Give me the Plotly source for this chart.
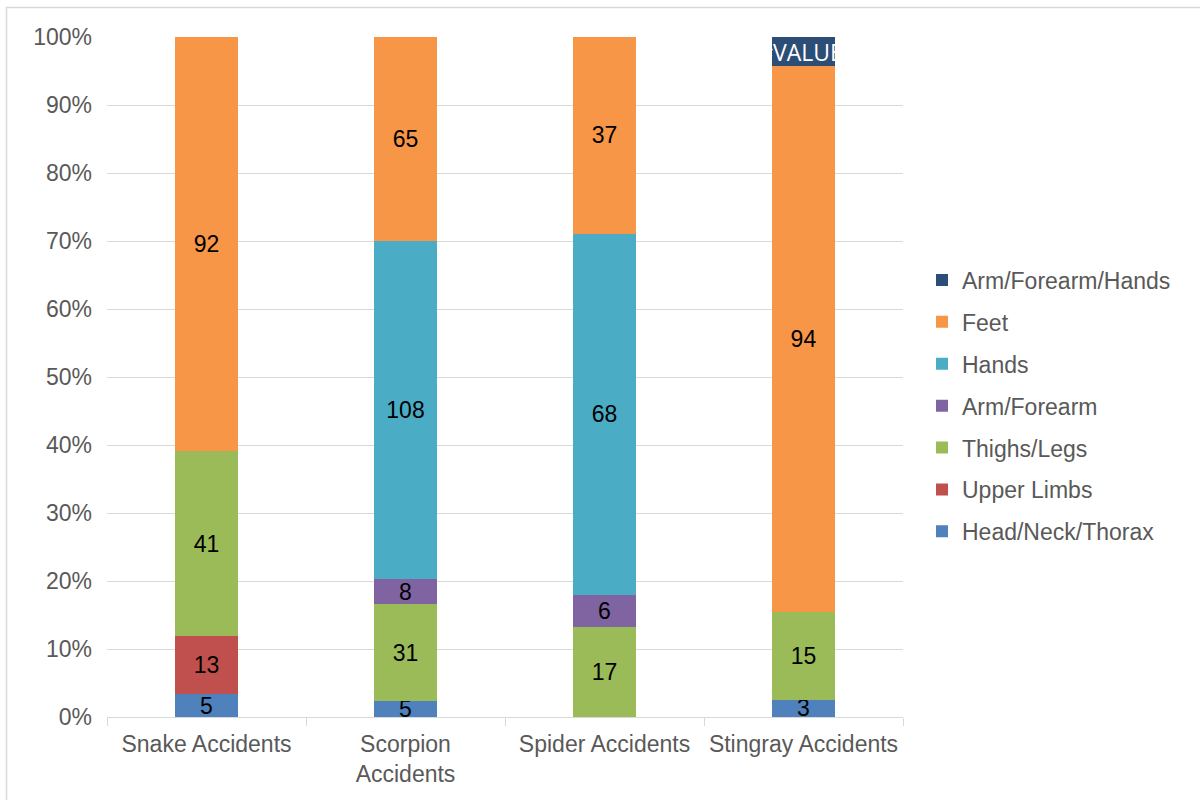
import plotly.graph_objects as go

categories = ["Snake Accidents", "Scorpion Accidents", "Spider Accidents", "Stingray Accidents"]
tick_labels = ["Snake Accidents", "Scorpion<br>Accidents", "Spider Accidents", "Stingray Accidents"]

head_neck_thorax = [5, 5, None, 3]
upper_limbs = [13, None, None, None]
thighs_legs = [41, 31, 17, 15]
arm_forearm = [None, 8, 6, None]
hands = [None, 108, 68, None]
feet = [92, 65, 37, 94]
arm_forearm_hands = [None, None, None, 5]
arm_forearm_hands_labels = ["", "", "", "#VALUE!"]

series = [
    ("Head/Neck/Thorax", head_neck_thorax, "#4F81BD"),
    ("Upper Limbs", upper_limbs, "#C0504D"),
    ("Thighs/Legs", thighs_legs, "#9BBB59"),
    ("Arm/Forearm", arm_forearm, "#8064A2"),
    ("Hands", hands, "#4BACC6"),
    ("Feet", feet, "#F79646"),
]

FS = 23
fig = go.Figure()
n = len(series) + 1
for i, (name, vals, color) in enumerate(series):
    fig.add_trace(go.Bar(
        name=name, x=categories, y=vals, marker_color=color, marker_line_width=0,
        text=[("" if v is None else str(v)) for v in vals],
        textposition="inside", insidetextanchor="middle", textangle=0,
        constraintext="none",
        textfont=dict(family="Liberation Sans, Arial", size=FS, color="black"),
        legendgroup=name, legendrank=n - i,
    ))

fig.add_trace(go.Bar(
    name="Arm/Forearm/Hands", x=categories, y=arm_forearm_hands, marker_color="#2C4D75",
    marker_line_width=0,
    text=arm_forearm_hands_labels,
    textposition="inside", insidetextanchor="middle", textangle=0,
    constraintext="none",
    textfont=dict(family="Open Sans, Liberation Sans", size=FS, color="white"),
    legendgroup="Arm/Forearm/Hands", legendrank=1,
))

L, R, T, B = 107, 903, 37, 717
W, H = R - L, B - T

fig.update_layout(
    width=1200, height=800,
    barmode="stack", barnorm="percent", bargap=0.688,
    plot_bgcolor="white", paper_bgcolor="white",
    margin=dict(l=L, r=1200 - R, t=T, b=800 - B, autoexpand=False),
    font=dict(family="Liberation Sans, Arial", size=FS, color="#595959"),
    showlegend=True,
    legend=dict(
        traceorder="grouped", tracegroupgap=9,
        x=(922 - L) / W, xanchor="left",
        y=(B - 406) / H, yanchor="middle",
        font=dict(size=FS, color="#595959"),
        bgcolor="rgba(0,0,0,0)",
    ),
    shapes=[dict(
        type="rect", xref="paper", yref="paper",
        x0=(6.5 - L) / W, x1=(1300 - L) / W,
        y0=(B - 900) / H, y1=(B - 7.5) / H,
        line=dict(color="#D9D9D9", width=1.5), fillcolor="rgba(0,0,0,0)", layer="below",
    )],
)

fig.update_xaxes(
    type="category", tickvals=categories, ticktext=tick_labels,
    showline=True, linecolor="#D9D9D9", linewidth=1,
    ticks="outside", tickson="boundaries", ticklen=8, tickcolor="#D9D9D9",
    ticklabelstandoff=6,
    showgrid=False, tickfont=dict(size=FS, color="#595959"),
)
fig.update_yaxes(
    range=[0, 100], dtick=10, ticksuffix="%",
    showgrid=True, gridcolor="#D9D9D9", gridwidth=1,
    zeroline=False, showline=False, ticks="",
    ticklabelstandoff=14,
    tickfont=dict(size=FS, color="#595959"),
)

fig.write_html("out.html", config={"displayModeBar": False},
               post_script="document.body.style.margin='0';")
